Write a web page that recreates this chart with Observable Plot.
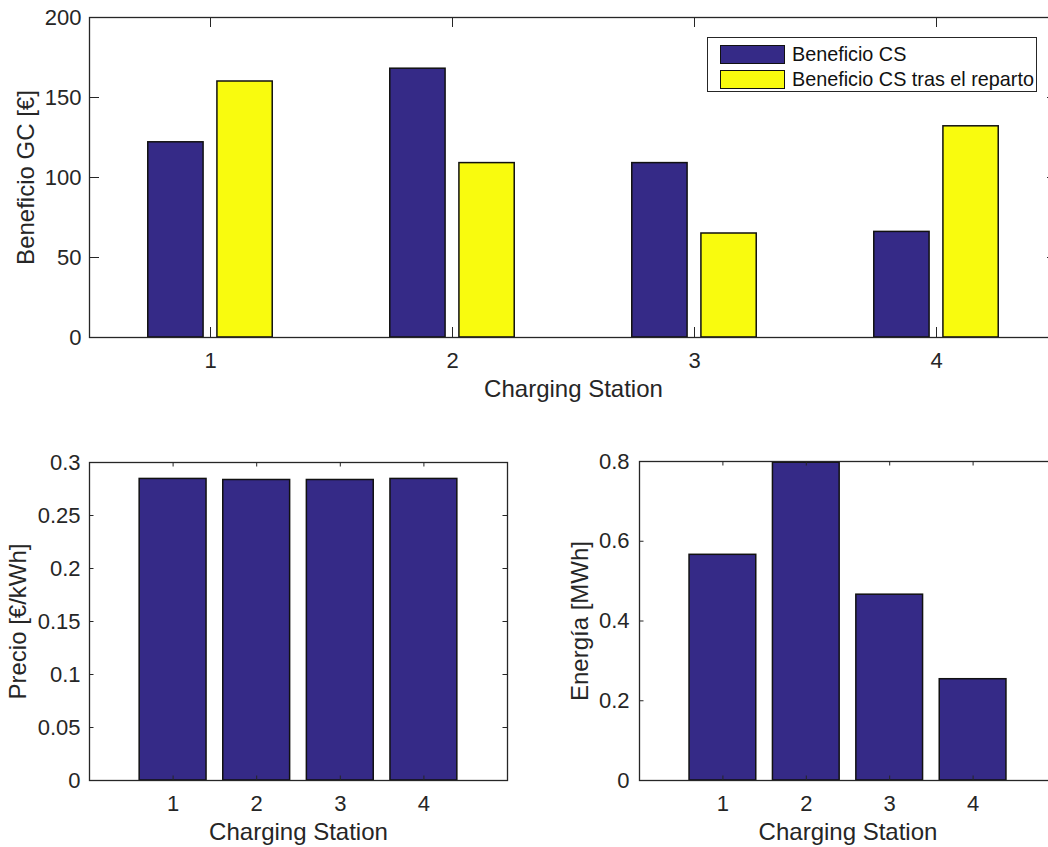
<!DOCTYPE html>
<html>
<head>
<meta charset="utf-8">
<script src="https://cdn.jsdelivr.net/npm/d3@7"></script>
<script src="https://cdn.jsdelivr.net/npm/@observablehq/plot@0.6"></script>
<style>
  html, body { margin: 0; padding: 0; background: #fff; overflow: hidden; width: 1048px; height: 847px; }
  .panel { position: absolute; }
  .legend { position: absolute; box-sizing: border-box; background: #fff; border: 1.3px solid #262626;
            font-family: 'Liberation Sans', Arial, Helvetica, sans-serif; font-size: 19.8px; color: #111; }
  .legend .row { position: absolute; left: 12px; display: flex; align-items: center; white-space: nowrap; }
  .legend .sw { box-sizing: border-box; width: 65px; height: 19px; border: 1.5px solid #111; margin-right: 7px; }
</style>
</head>
<body>
<div id="top" class="panel" style="left:0;top:0;width:1080px;"></div>
<div id="bl" class="panel" style="left:0;top:440px;width:520px;"></div>
<div id="br" class="panel" style="left:560px;top:440px;width:520px;"></div>
<div id="legend" class="legend" style="left:707px;top:37px;width:330px;height:55px;"></div>
<script>
// ---------------- data ----------------
const stations = [1, 2, 3, 4];
const beneficioCS = [122, 168, 109, 66];
const beneficioReparto = [160, 109, 65, 132];
const precio = [0.2845, 0.2835, 0.2835, 0.2845];
const energia = [0.566, 0.797, 0.466, 0.254];
const seriesNames = ["Beneficio CS", "Beneficio CS tras el reparto"];
const seriesColors = ["#352A87", "#F9FB0E"];
const yTicksTop = [0, 50, 100, 150, 200];
const yTicksPrecio = [0, 0.05, 0.1, 0.15, 0.2, 0.25, 0.3];
const yTicksEnergia = [0, 0.2, 0.4, 0.6, 0.8];
const xLabel = "Charging Station";
const yLabelTop = "Beneficio GC [€]";
const yLabelPrecio = "Precio [€/kWh]";
const yLabelEnergia = "Energía [MWh]";

// ---------------- helpers ----------------
const font = "'Liberation Sans', Arial, Helvetica, sans-serif";
const ink = "#262626";
const edge = "#111111";
const fmt = d3.format("~g");

function matlabAxes({width, height, mt, mr, mb, ml, xDomain, yDomain, yTicks, tl, marks, ylabel, ylabelDx, ytickPad}) {
  const pw = width - ml - mr, ph = height - mt - mb;
  return Plot.plot({
    width, height,
    marginTop: mt, marginRight: mr, marginBottom: mb, marginLeft: ml,
    style: {fontFamily: font, color: ink, background: "transparent", overflow: "visible", maxWidth: "none"},
    x: {domain: xDomain},
    y: {domain: yDomain},
    color: {domain: seriesNames, range: seriesColors},
    marks: [
      ...marks,
      Plot.tickX(stations, {x: d => d, insetTop: ph - tl, stroke: ink}),
      Plot.tickX(stations, {x: d => d, insetBottom: ph - tl, stroke: ink}),
      Plot.tickY(yTicks, {y: d => d, insetRight: pw - tl, stroke: ink}),
      Plot.tickY(yTicks, {y: d => d, insetLeft: pw - tl, stroke: ink}),
      Plot.frame({stroke: ink, strokeWidth: 1.3}),
      Plot.axisX(stations, {tickSize: 0, tickPadding: 15, fontSize: 22, label: null, tickFormat: fmt}),
      Plot.axisY(yTicks, {tickSize: 0, tickPadding: ytickPad, fontSize: 22, label: null, tickFormat: fmt}),
      Plot.text([xLabel], {text: d => d, frameAnchor: "bottom", lineAnchor: "middle", textAnchor: "middle",
                           dy: 52, fontSize: 24, fill: ink}),
      Plot.text([ylabel], {text: d => d, frameAnchor: "left", lineAnchor: "middle", textAnchor: "middle",
                           rotate: -90, dx: ylabelDx, fontSize: 24, fill: ink})
    ]
  });
}

// ---------------- top: grouped bars (MATLAB grouping) ----------------
const nSeries = seriesNames.length;
const groupWidth = Math.min(0.8, nSeries / (nSeries + 1.5));
const slot = groupWidth / nSeries;
const barW = slot * 0.8;
const seriesValues = [beneficioCS, beneficioReparto];
const topRows = stations.flatMap((s, i) => seriesValues.map((vals, j) => ({
  station: s, series: seriesNames[j], j, value: vals[i]
})));
const offset = j => -groupWidth / 2 + slot * (j + 0.5);

document.getElementById("top").append(matlabAxes({
  width: 1070, height: 407, mt: 17, mr: 13, mb: 70, ml: 89,
  xDomain: [0.5, 4.5], yDomain: [0, 200], yTicks: yTicksTop, tl: 10,
  ylabel: yLabelTop, ylabelDx: -63, ytickPad: 8,
  marks: [
    Plot.rectY(topRows, {
      x1: d => d.station + offset(d.j) - barW / 2,
      x2: d => d.station + offset(d.j) + barW / 2,
      y: "value", fill: "series", stroke: edge, strokeWidth: 1.5
    })
  ]
}));

// ---------------- bottom-left: precio ----------------
const simpleW = 0.8;
const precioRows = stations.map((s, i) => ({station: s, value: precio[i]}));
document.getElementById("bl").append(matlabAxes({
  width: 517, height: 407, mt: 22, mr: 10, mb: 67, ml: 89,
  xDomain: [0, 5], yDomain: [0, 0.3], yTicks: yTicksPrecio, tl: 4.5,
  ylabel: yLabelPrecio, ylabelDx: -71, ytickPad: 9,
  marks: [
    Plot.rectY(precioRows, {
      x1: d => d.station - simpleW / 2, x2: d => d.station + simpleW / 2,
      y: "value", fill: seriesColors[0], stroke: edge, strokeWidth: 1.5
    })
  ]
}));

// ---------------- bottom-right: energia ----------------
const energiaRows = stations.map((s, i) => ({station: s, value: energia[i]}));
document.getElementById("br").append(matlabAxes({
  width: 506, height: 407, mt: 21, mr: 10, mb: 67, ml: 79,
  xDomain: [0, 5], yDomain: [0, 0.8], yTicks: yTicksEnergia, tl: 4.5,
  ylabel: yLabelEnergia, ylabelDx: -59, ytickPad: 10,
  marks: [
    Plot.rectY(energiaRows, {
      x1: d => d.station - simpleW / 2, x2: d => d.station + simpleW / 2,
      y: "value", fill: seriesColors[0], stroke: edge, strokeWidth: 1.5
    })
  ]
}));

// ---------------- legend (inside top axes) ----------------
const legend = document.getElementById("legend");
seriesNames.forEach((name, j) => {
  const row = document.createElement("div");
  row.className = "row";
  row.style.top = (j === 0 ? 5 : 30) + "px";
  const sw = document.createElement("div");
  sw.className = "sw";
  sw.style.background = seriesColors[j];
  const label = document.createElement("span");
  label.textContent = name;
  row.append(sw, label);
  legend.append(row);
});
</script>
</body>
</html>
